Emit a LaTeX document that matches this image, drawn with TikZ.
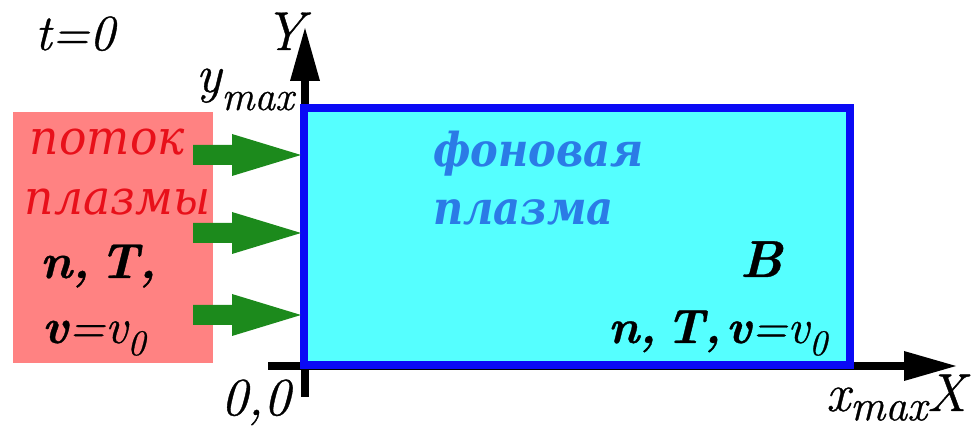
\documentclass[tikz,border=0pt]{standalone}
\usepackage{fontspec}
\setmainfont{Latin Modern Roman}[FakeBold=0.7]
\newfontfamily\cyr[FakeStretch=0.95]{DejaVu Serif}
\newfontfamily\cyrb[FakeStretch=0.89]{DejaVu Serif}
\definecolor{pinkc}{HTML}{FF8282}
\definecolor{cyanc}{HTML}{55FFFF}
\definecolor{borderc}{HTML}{0A0AF5}
\definecolor{redc}{HTML}{E8101A}
\definecolor{bluetext}{HTML}{2B7BE6}
\definecolor{greenc}{HTML}{1C8A1C}
\newcommand\fs[1]{\fontsize{#1}{#1}\selectfont}
\newcommand\lowsub[3]{\raisebox{-#1}{\fs{#2}#3}}
\begin{document}
\begin{tikzpicture}[x=0.75pt,y=-0.75pt,
  txt/.style={inner sep=0pt,outer sep=0pt,anchor=base west,font=\itshape},
  flowarrow/.style={fill=greenc}]
\useasboundingbox (0,0) rectangle (979,427);
% inflow plasma box
\fill[pinkc] (13,112) rectangle (213,363);
% axes
\draw[line width=6pt] (305,397) -- (305,78);
\fill (290,81) -- (305,28) -- (320,81) -- cycle;
\draw[line width=6pt] (268,366) -- (906,366);
\fill (904,351) -- (956,366) -- (904,381) -- cycle;
% background plasma box
\filldraw[fill=cyanc,draw=borderc,line width=6pt] (304,108) rectangle (850,365);
% green flow arrows
\foreach \yy in {155,233,315}{
  \fill[flowarrow] (193,\yy-10) -- (232,\yy-10) -- (232,\yy-21) -- (301,\yy) -- (232,\yy+21) -- (232,\yy+10) -- (193,\yy+10) -- cycle;
}
% texts
\node[txt] (t0) at (35,50) {\fs{38}t=0};
\node[txt] (Y) at (264,50) {\fs{41}Y};
\node[txt] (ymax) at (196,92) {\fs{40}y\lowsub{13.5pt}{31}{max}};
\node[txt,text=redc] (potok) at (30,155) {\cyr\fs{36}поток};
\node[txt,text=redc] (plazmy) at (25,215) {\cyr\fs{36}плазмы};
\node[txt] (nT) at (40,278) {\fs{37}\bfseries n,\hspace{0.2em}T,};
\node[txt] (v0) at (42,343) {\fs{37}{\bfseries v}=v\lowsub{9pt}{27}{0}};
\node[txt,text=bluetext] (fon) at (433,167) {\cyrb\fs{35}\bfseries фоновая};
\node[txt,text=bluetext] (plazma) at (433,225) {\cyrb\fs{35}\bfseries плазма};
\node[txt] (B) at (740,277) {\fs{39}\bfseries B};
\node[txt] (nTv) at (608,343) {\fs{36}{\bfseries n,\hspace{0.2em}T,\hspace{0.1em}v}=v\lowsub{9pt}{27}{0}};
\node[txt] (zero) at (221,415) {\fs{40}0,0};
\node[txt] (xmax) at (826,411) {\fs{40}x\lowsub{7pt}{33}{max}X};
\end{tikzpicture}
\end{document}
